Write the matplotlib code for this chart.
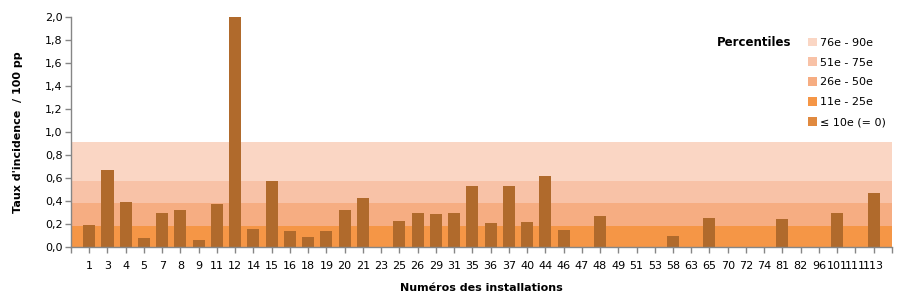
import matplotlib
matplotlib.use("Agg")
import matplotlib.pyplot as plt
from matplotlib.patches import Patch
import numpy as np

plt.rcParams['font.family'] = ['DejaVu Sans']

categories = ["1", "3", "4", "5", "7", "8", "9", "11", "12", "14", "15", "16", "18", "19",
              "20", "21", "23", "25", "26", "29", "31", "35", "36", "37", "40", "44", "46",
              "47", "48", "49", "51", "53", "58", "63", "65", "70", "72", "74", "81", "82",
              "96", "101", "111", "113"]
rates = [0.19, 0.67, 0.39, 0.08, 0.30, 0.32, 0.06, 0.37, 2.00, 0.16, 0.57, 0.14, 0.09, 0.14,
         0.32, 0.43, 0.0, 0.23, 0.30, 0.29, 0.30, 0.53, 0.21, 0.53, 0.22, 0.62, 0.15,
         0.0, 0.27, 0.0, 0.0, 0.0, 0.10, 0.0, 0.25, 0.0, 0.0, 0.0, 0.24, 0.0,
         0.0, 0.30, 0.0, 0.47]

band_labels = ["76e - 90e", "51e - 75e", "26e - 50e", "11e - 25e", "\u2264 10e (= 0)"]
band_tops = [0.91, 0.57, 0.38, 0.18, 0.0]
band_colors = ["#FAD6C4", "#F8C2A7", "#F6AD82", "#F59646", "#E0893F"]
bar_color = "#B06A2C"

fig = plt.figure(figsize=(9, 3.07), dpi=100)
ax = fig.add_axes([0.0789, 0.1954, 0.9121, 0.7492])

n = len(categories)
x = np.arange(1, n + 1)
xmin, xmax = 0, n + 1

# percentile bands (drawn from the top threshold downward)
for top, col in zip(band_tops, band_colors):
    if top > 0:
        ax.fill_between([xmin, xmax], 0, top, color=col, linewidth=0, zorder=1)

ax.bar(x, rates, width=0.66, color=bar_color, zorder=3)

ax.set_xlim(xmin, xmax)
ax.set_ylim(0, 2.0)
yt = np.arange(0, 2.01, 0.2)
ax.set_yticks(yt)
ax.set_yticklabels([f"{v:.1f}".replace(".", ",") for v in yt], fontsize=8)
ax.set_xticks(list(x))
ax.set_xticklabels(categories, fontsize=8)
ax.set_xticks([xmin, xmax], minor=True)

for s in ["top", "right"]:
    ax.spines[s].set_visible(False)
for s in ["left", "bottom"]:
    ax.spines[s].set_color("#868686")
    ax.spines[s].set_linewidth(1)
    ax.spines[s].set_zorder(4)
ax.tick_params(axis="both", which="both", color="#868686", length=4, width=1, direction="out")
ax.tick_params(axis="x", which="major", pad=6)
ax.tick_params(axis="y", pad=2)

ax.set_ylabel("Taux d'incidence  / 100 pp", fontsize=8, fontweight="bold", labelpad=16)
ax.set_xlabel("Numéros des installations", fontsize=8, fontweight="bold", labelpad=9)

handles = [Patch(facecolor=c, edgecolor="none") for c in band_colors]
leg = fig.legend(handles, band_labels, loc="upper left", bbox_to_anchor=(0.893, 0.892),
                 frameon=False, fontsize=8, handlelength=0.8, handleheight=0.8,
                 handletextpad=0.3, labelspacing=0.88, borderaxespad=0)
fig.text(0.797, 0.862, "Percentiles", fontsize=8.5, fontweight="bold", va="center")

fig.savefig("out.png", dpi=100)
